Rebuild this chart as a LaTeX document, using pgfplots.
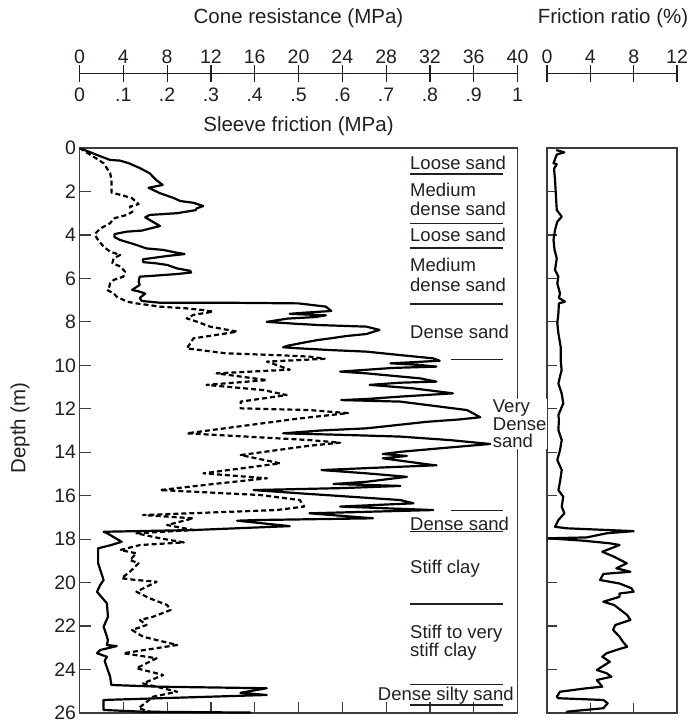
\documentclass[border=0pt]{standalone}
\usepackage{fontspec}
\setmainfont{Liberation Sans}
\usepackage{pgfplots}
\usepackage{pgfplotstable}
\pgfplotsset{compat=1.18}

\definecolor{ink}{RGB}{35,31,32}
\definecolor{frame}{RGB}{60,60,60}

\newcommand\titlefont{\fontsize{20.5}{24}\selectfont}
\newcommand\tickfont{\fontsize{19.5}{22}\selectfont}
\newcommand\notefont{\fontsize{18.5}{18.5}\selectfont}

% cone resistance qc (MPa) against depth z (m)
\pgfplotstableread{
qc z
0 0
1.5 0.3
2.8 0.55
3.7 0.58
4.5 0.7
5.5 0.92
6.4 1.16
7.0 1.47
7.6 1.7
6.3 1.83
7.35 2.08
8.6 2.3
9.2 2.44
10.4 2.52
11.3 2.67
10.7 2.78
10.6 2.86
8.9 3.0
6.4 3.08
6.0 3.19
7.35 3.59
5.7 3.8
4.3 3.85
3.2 3.96
3.2 4.1
3.7 4.23
5.2 4.46
6.1 4.62
7.65 4.69
8.7 4.8
9.6 4.88
8.0 4.97
5.8 5.12
5.8 5.25
7.05 5.31
8.0 5.38
8.9 5.54
10.1 5.65
10.2 5.73
8.9 5.8
6.7 5.88
5.5 5.92
5.4 6.15
5.5 6.3
4.8 6.53
5.5 6.61
6.0 6.7
5.5 6.9
5.7 7.04
7.35 7.12
13.4 7.12
20.0 7.15
22.5 7.3
23.0 7.5
20.5 7.58
19.2 7.63
22.5 7.7
21.5 7.78
19.0 7.85
17.1 8.0
19.5 8.08
22.0 8.15
26.2 8.22
27.4 8.37
26.2 8.56
24.4 8.65
22.9 8.76
21.7 8.84
20.1 8.99
19.0 9.1
18.6 9.17
20.1 9.22
23.0 9.3
26.2 9.37
29.3 9.53
32.3 9.68
32.9 9.79
28.4 9.91
31.0 9.98
32.6 10.06
28.6 10.12
23.8 10.29
26.2 10.37
31.1 10.6
32.6 10.75
29.3 10.8
26.5 10.9
30.5 11.06
34.1 11.29
29.3 11.44
26.2 11.55
23.9 11.6
29.3 11.67
32.9 11.9
35.4 12.06
36.6 12.39
34.7 12.49
31.7 12.6
27.7 12.82
26.2 12.9
22.0 13.0
18.6 13.13
24.0 13.2
29.3 13.28
33.8 13.44
37.5 13.62
33.8 13.78
29.3 13.98
27.7 14.08
29.9 14.17
27.7 14.28
32.3 14.59
32.6 14.6
27.7 14.7
22.1 14.82
26.2 14.97
29.9 15.13
26.2 15.36
23.2 15.46
29.3 15.55
24.0 15.65
15.9 15.74
20.1 15.89
29.3 16.2
30.5 16.35
23.8 16.5
32.3 16.66
21.0 16.81
26.8 17.04
16.2 17.12
14.4 17.15
19.2 17.4
10.4 17.58
2.2 17.66
2.5 17.72
3.85 18.12
2.9 18.27
1.7 18.42
1.7 19.1
1.9 19.42
2.2 19.88
1.9 20.1
1.6 20.42
2.5 20.95
2.6 21.57
2.2 22.03
2.4 22.33
2.6 22.64
2.5 22.87
3.4 22.92
1.9 23.1
1.6 23.25
2.5 23.41
2.3 23.6
2.5 23.9
2.8 24.33
2.9 24.71
7.35 24.79
17.1 24.86
14.7 25.07
17.1 25.17
7.35 25.32
2.2 25.4
2.2 25.86
5.8 25.94
15.6 25.98
}\conetab

% sleeve friction fs (MPa) against depth z (m)
\pgfplotstableread{
fs z
0 0
0.032 0.4
0.055 0.7
0.07 1.16
0.073 1.47
0.073 2.05
0.1 2.19
0.12 2.31
0.135 2.58
0.115 2.7
0.121 2.93
0.108 3.08
0.078 3.24
0.07 3.46
0.048 3.7
0.035 3.96
0.04 4.16
0.055 4.54
0.07 4.77
0.093 4.92
0.078 5.08
0.075 5.3
0.093 5.45
0.104 5.69
0.1 5.92
0.078 6.07
0.07 6.23
0.068 6.38
0.063 6.53
0.078 6.69
0.085 6.84
0.108 7.07
0.13 7.15
0.184 7.3
0.245 7.38
0.283 7.46
0.305 7.53
0.26 7.68
0.245 7.84
0.268 7.99
0.298 8.22
0.36 8.45
0.313 8.6
0.26 8.76
0.253 8.99
0.245 9.22
0.335 9.45
0.45 9.53
0.525 9.6
0.56 9.7
0.428 9.83
0.48 10.2
0.313 10.37
0.428 10.68
0.29 10.9
0.42 11.14
0.473 11.37
0.368 11.67
0.368 11.98
0.525 12.06
0.613 12.2
0.5 12.45
0.245 13.13
0.525 13.44
0.595 13.56
0.525 13.7
0.368 14.13
0.458 14.51
0.283 14.97
0.428 15.2
0.32 15.43
0.184 15.74
0.413 15.97
0.503 16.2
0.513 16.5
0.45 16.66
0.145 16.89
0.26 17.04
0.2 17.35
0.26 17.58
0.13 17.73
0.184 17.96
0.238 18.15
0.138 18.27
0.093 18.5
0.13 18.65
0.115 18.96
0.135 19.11
0.115 19.5
0.096 19.8
0.13 19.88
0.176 19.96
0.153 20.19
0.13 20.42
0.16 20.72
0.2 21.03
0.208 21.26
0.168 21.57
0.138 21.72
0.153 21.95
0.12 22.18
0.145 22.49
0.223 22.87
0.1 23.25
0.176 23.48
0.13 23.94
0.191 24.25
0.145 24.64
0.223 25.02
0.168 25.25
0.135 25.78
0.168 25.98
}\sleevetab

% friction ratio Rf (%) against depth z (m)
\pgfplotstableread{
rf z
0.9 0.1
1.6 0.2
0.9 0.3
0.6 0.7
0.9 0.75
0.65 0.95
0.74 1.47
0.83 2.24
0.9 2.85
1.36 3.16
0.95 3.39
0.74 3.77
0.6 4.23
0.7 4.69
0.9 5.08
0.74 5.61
1.05 5.92
0.95 6.23
1.2 6.69
1.1 6.9
1.66 7.07
1.1 7.15
1.05 7.61
0.95 8.07
1.05 8.53
1.26 9.14
1.26 9.76
1.35 10.22
1.2 10.52
1.05 10.83
1.35 11.29
1.5 11.75
1.05 12.29
1.1 12.5
1.05 12.98
1.36 13.44
1.2 13.9
0.95 14.36
1.36 14.82
1.2 15.36
1.05 15.74
1.5 16.05
1.36 16.5
1.6 16.81
1.05 17.12
0.74 17.43
1.82 17.5
8.0 17.63
5.5 17.73
3.66 17.92
0.12 17.96
3.35 18.07
5.8 18.19
6.7 18.27
5.1 18.58
6.2 18.81
7.36 19.11
6.4 19.34
7.7 19.5
5.2 19.6
4.9 19.88
6.7 20.04
7.8 20.26
8.0 20.42
6.7 20.5
6.7 20.65
5.2 20.88
6.2 21.03
7.4 21.49
7.7 21.72
6.3 21.95
6.1 22.18
6.7 22.49
7.0 22.72
7.4 22.95
6.4 23.1
5.5 23.25
5.1 23.41
5.8 23.64
4.6 24.02
5.5 24.17
5.95 24.33
4.6 24.48
5.1 24.79
3.66 24.86
1.2 25.02
0.9 25.25
1.05 25.32
5.2 25.4
5.6 25.55
5.2 25.78
1.82 25.94
}\ratiotab

\pgfplotsset{
  /pgf/number format/assume math mode=true,
  log panel/.style={
    scale only axis, anchor=north west, height=565pt,
    ymin=0, ymax=26, y dir=reverse,
    xtick pos=bottom, ytick pos=left, tick align=inside,
    xticklabels={},
    axis line style={draw=frame, line width=1.2pt},
    tick style={draw=frame, line width=1.2pt},
  },
  % a bare horizontal scale: one line, centred ticks, labels above or below
  scale bar/.style 2 args={
    scale only axis, width=#1, height=20pt, ymin=-1, ymax=1,
    axis x line=middle, axis y line=none,
    x axis line style={-}, axis line style={-, draw=ink, line width=1.2pt},
    tick align=center, major tick length=17pt,
    tick style={draw=ink, line width=1.2pt},
    xticklabel style={font=\tickfont, text=ink, anchor=base,
      inner sep=0pt, yshift=#2},
  },
  trace/.style={black, line width=2.2pt, line join=round, line cap=round},
}

\begin{document}
\begin{tikzpicture}
\path[use as bounding box] (0,0) rectangle (691pt,-725pt);

% scale bars above the logs
\begin{axis}[scale bar={438pt}{18.3pt}, anchor=center, at={(298.5pt,-73.5pt)},
  name=conebar, xmin=0, xmax=40, xtick={0,4,...,40}]
\end{axis}
\begin{axis}[scale bar={438pt}{-27.5pt}, anchor=center, at={(298.5pt,-73.5pt)},
  name=sleevebar, xmin=0, xmax=1, major tick length=0pt,
  xtick={0,0.1,0.2,0.3,0.4,0.5,0.6,0.7,0.8,0.9,1},
  xticklabels={0,.1,.2,.3,.4,.5,.6,.7,.8,.9,1}]
\end{axis}
\begin{axis}[scale bar={130pt}{18.3pt}, anchor=center, at={(612pt,-73.5pt)},
  name=ratiobar, xmin=0, xmax=12, xtick={0,4,8,12}]
\end{axis}

% cone resistance and sleeve friction log
\begin{axis}[log panel, at={(79.5pt,-148pt)}, width=438pt,
  xmin=0, xmax=40, xtick={4,8,...,36}, major tick length=11pt,
  ytick={0,2,...,26},
  yticklabel style={font=\tickfont, text=ink}]
\addplot[trace] table[x=qc, y=z] {\conetab};
\addplot[trace, dash pattern=on 5pt off 3pt, line cap=butt]
  table[x expr=\thisrow{fs}*40, y=z] {\sleevetab};
\end{axis}

% friction ratio log
\begin{axis}[log panel, at={(547pt,-148pt)}, width=130pt,
  xmin=0, xmax=12, xtick={4,8}, major tick length=10pt,
  ytick={2,4,...,24}, yticklabels={}]
\addplot[trace] table[x=rf, y=z] {\ratiotab};
\end{axis}

% titles
\node[font=\titlefont, text=ink] at (298.5pt,-18pt) {Cone resistance (MPa)};
\node[font=\titlefont, text=ink] at (298.5pt,-126pt) {Sleeve friction (MPa)};
\node[font=\titlefont, text=ink] at (613pt,-18pt) {Friction ratio (\%)};
\node[font=\titlefont, text=ink, rotate=90] at (20pt,-428pt) {Depth (m)};

% soil layers
\begin{scope}[font=\notefont, text=ink]
\node[anchor=base west, inner sep=0pt] at (410pt,-169.5pt) {Loose sand};
\node[anchor=base west, inner sep=0pt] at (410pt,-196.7pt) {Medium};
\node[anchor=base west, inner sep=0pt] at (410pt,-215pt) {dense sand};
\node[anchor=base west, inner sep=0pt] at (410pt,-241pt) {Loose sand};
\node[anchor=base west, inner sep=0pt] at (410pt,-271.7pt) {Medium};
\node[anchor=base west, inner sep=0pt] at (410pt,-291pt) {dense sand};
\node[anchor=base west, inner sep=0pt] at (410pt,-338.3pt) {Dense sand};
\node[anchor=base west, inner sep=0pt] at (410pt,-530pt) {Dense sand};
\node[anchor=base west, inner sep=0pt] at (410pt,-573.3pt) {Stiff clay};
\node[anchor=base west, inner sep=0pt] at (410pt,-638pt) {Stiff to very};
\node[anchor=base west, inner sep=0pt] at (410pt,-656.5pt) {stiff clay};
\node[anchor=base west, inner sep=0pt] at (377.7pt,-700pt) {Dense silty sand};
\node[anchor=north west, fill=white, inner sep=1pt, align=left]
  at (491.7pt,-399pt) {Very\\[-1pt]Dense\\[-1pt]sand};
\end{scope}
\begin{scope}[draw=ink, line width=1.2pt]
\foreach \y in {174,223.7,248,304,531.3,604,684.3,705}
  \draw (410pt,-\y pt) -- (503pt,-\y pt);
\foreach \y in {359.5,510.3}
  \draw (450.7pt,-\y pt) -- (503pt,-\y pt);
\end{scope}
\end{tikzpicture}
\end{document}
